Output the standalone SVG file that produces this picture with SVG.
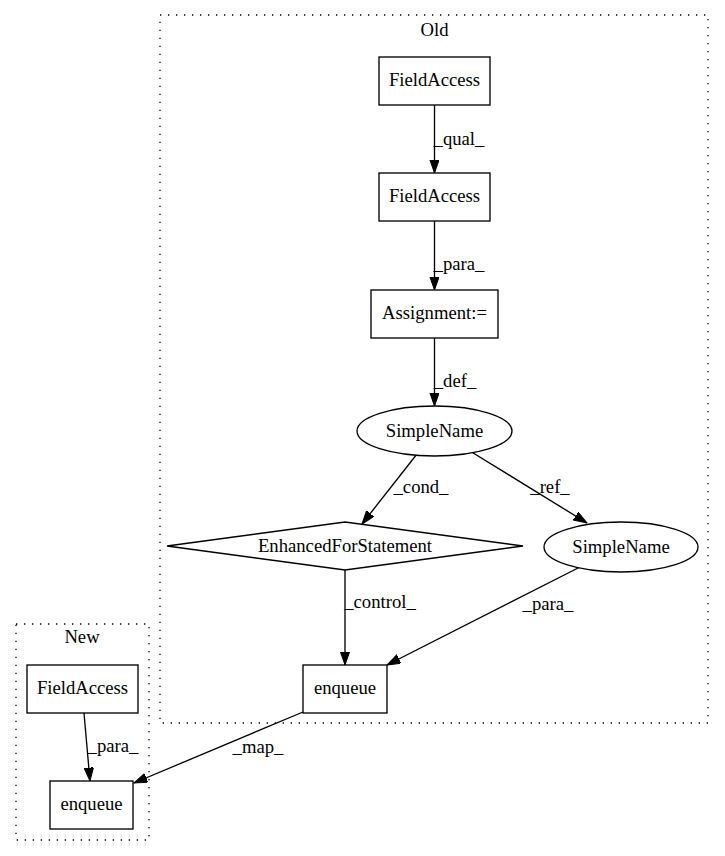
<svg xmlns="http://www.w3.org/2000/svg" width="725" height="856" viewBox="0 0 725 856">
<style>
  text { font-family: "Liberation Serif", "Times New Roman", serif; font-size: 18.67px; fill: #000; text-anchor: middle; }
  .node { fill: #fff; stroke: #000; stroke-width: 1.33; }
  .cluster { fill: none; stroke: #000; stroke-width: 1.33; stroke-dasharray: 1.33,6.67; }
  .edge { fill: none; stroke: #000; stroke-width: 1.33; marker-end: url(#arrow); }
</style>
<defs>
  <marker id="arrow" markerUnits="userSpaceOnUse" markerWidth="14" markerHeight="10" refX="13.33" refY="4.67" orient="auto">
    <path d="M0,0 L13.33,4.67 L0,9.33 z" fill="#000" stroke="#000" stroke-width="1"/>
  </marker>
</defs>
<rect width="725" height="856" fill="#fff"/>
<g id="cluster-old">
  <rect class="cluster" x="160" y="15" width="548" height="708"/>
  <text x="434.5" y="36">Old</text>
</g>
<g id="cluster-new">
  <rect class="cluster" x="16" y="624" width="133" height="216"/>
  <text x="82" y="643">New</text>
</g>
<g id="connectors">
  <path class="edge" d="M434.5,105 L434.5,173"/>
  <text x="459" y="145">_qual_</text>
  <path class="edge" d="M434.5,221 L434.5,290"/>
  <text x="459" y="270">_para_</text>
  <path class="edge" d="M434.5,338 L434.5,406"/>
  <text x="455" y="387">_def_</text>
  <path class="edge" d="M417,454 L362,524"/>
  <text x="421" y="493">_cond_</text>
  <path class="edge" d="M470,451 L587,523"/>
  <text x="550" y="493">_ref_</text>
  <path class="edge" d="M345,570 L345,665"/>
  <text x="380" y="608">_control_</text>
  <path class="edge" d="M582,566 L387,665"/>
  <text x="548" y="610">_para_</text>
  <path class="edge" d="M303,712 L134,783"/>
  <text x="258" y="753">_map_</text>
  <path class="edge" d="M84,713 L90,781"/>
  <text x="113" y="752">_para_</text>
</g>
<g id="n-fieldaccess1">
  <rect class="node" x="379" y="57" width="111" height="48"/>
  <text x="434.5" y="86">FieldAccess</text>
</g>
<g id="n-fieldaccess2">
  <rect class="node" x="379" y="173" width="111" height="48"/>
  <text x="434.5" y="202">FieldAccess</text>
</g>
<g id="n-assignment">
  <rect class="node" x="371" y="290" width="127" height="48"/>
  <text x="434.5" y="319">Assignment:=</text>
</g>
<g id="n-simplename1">
  <ellipse class="node" cx="434.5" cy="431" rx="77.5" ry="25"/>
  <text x="434.5" y="437">SimpleName</text>
</g>
<g id="n-enhancedfor">
  <polygon class="node" points="167,546 345,522 523,546 345,570"/>
  <text x="345" y="552">EnhancedForStatement</text>
</g>
<g id="n-simplename2">
  <ellipse class="node" cx="621" cy="547" rx="77" ry="25"/>
  <text x="621" y="553">SimpleName</text>
</g>
<g id="n-enqueue-old">
  <rect class="node" x="303" y="665" width="84" height="48"/>
  <text x="345" y="694">enqueue</text>
</g>
<g id="n-fieldaccess-new">
  <rect class="node" x="27" y="665" width="111" height="48"/>
  <text x="82.5" y="694">FieldAccess</text>
</g>
<g id="n-enqueue-new">
  <rect class="node" x="50" y="781" width="83" height="48"/>
  <text x="91.5" y="810">enqueue</text>
</g>
</svg>
